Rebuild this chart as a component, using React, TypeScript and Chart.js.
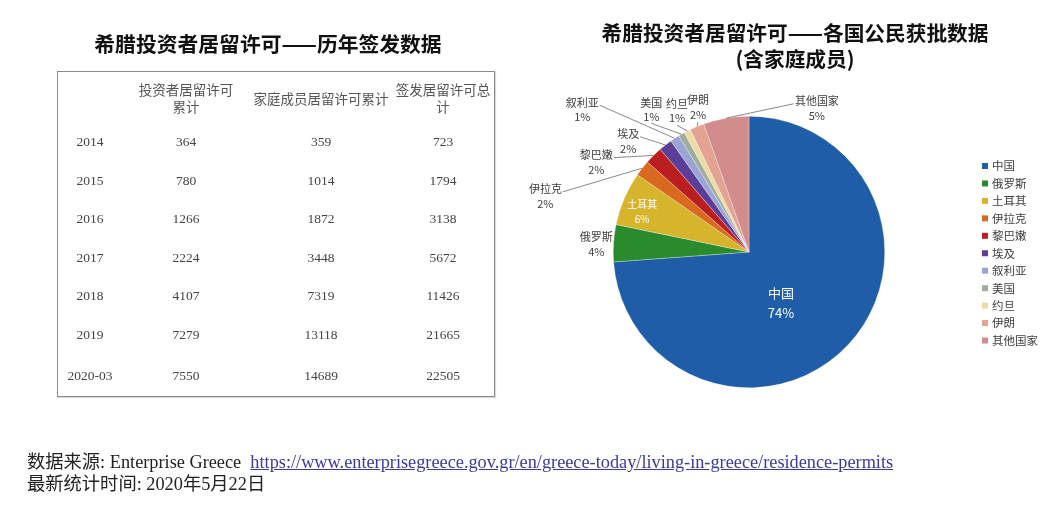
import React, { useEffect, useRef } from "react";
import { Chart, registerables } from "chart.js";

Chart.register(...registerables);

// ---------- data ----------
const countries = ["中国", "俄罗斯", "土耳其", "伊拉克", "黎巴嫩", "埃及", "叙利亚", "美国", "约旦", "伊朗", "其他国家"];
const shares = [73.8, 4.4, 6.4, 1.9, 2.1, 1.6, 1.1, 0.75, 0.8, 1.7, 5.4];
const sliceColors = ["#1F5DA8", "#2A8A2E", "#D6B42B", "#D8691F", "#BA1E1E", "#5C3E97", "#9AA5D6", "#9FAE9C", "#ECDCA3", "#E4A293", "#D28C8C"];

const tableHeaders = ["", "投资者居留许可\n累计", "家庭成员居留许可累计", "签发居留许可总计"];
const years = ["2014", "2015", "2016", "2017", "2018", "2019", "2020-03"];
const investorPermits = [364, 780, 1266, 2224, 4107, 7279, 7550];
const familyPermits = [359, 1014, 1872, 3448, 7319, 13118, 14689];
const totalPermits = [723, 1794, 3138, 5672, 11426, 21665, 22505];

const leftTitle = "希腊投资者居留许可——历年签发数据";
const rightTitle1 = "希腊投资者居留许可——各国公民获批数据";
const rightTitle2 = "(含家庭成员)";
const sourceLabel = "数据来源: Enterprise Greece";
const sourceUrl = "https://www.enterprisegreece.gov.gr/en/greece-today/living-in-greece/residence-permits";
const updateLabel = "最新统计时间: 2020年5月22日";

// ---------- label layout (offsets relative to pie radius) ----------
const labelLayout = [
  { dx: 0.235, dy: 0.375, line: "none", size: 13, gap: 20, color: "#ffffff" },
  { dx: -1.125, dy: -0.055, line: "none", size: 11, gap: 15, color: "#404040" },
  { dx: -0.787, dy: -0.3, line: "none", size: 10, gap: 15, color: "#ffffff" },
  { dx: -1.5, dy: -0.41, line: "right", size: 11, gap: 15, color: "#404040" },
  { dx: -1.125, dy: -0.662, line: "right", size: 11, gap: 15, color: "#404040" },
  { dx: -0.89, dy: -0.816, line: "right", size: 11, gap: 15, color: "#404040" },
  { dx: -1.228, dy: -1.051, line: "right", size: 11, gap: 14, color: "#404040" },
  { dx: -0.72, dy: -1.051, line: "bottom", size: 11, gap: 14, color: "#404040" },
  { dx: -0.53, dy: -1.037, line: "bottom", size: 11, gap: 14, color: "#404040" },
  { dx: -0.375, dy: -1.066, line: "bottom", size: 11, gap: 15, color: "#404040" },
  { dx: 0.5, dy: -1.059, line: "left", size: 11, gap: 15, color: "#404040" },
];

const CJK = '"Noto Sans CJK SC", "Noto Sans", sans-serif';

const pieLabels = {
  id: "pieLabels",
  afterDatasetsDraw(chart: any) {
    const ctx = chart.ctx;
    const meta = chart.getDatasetMeta(0);
    const values = chart.data.datasets[0].data as number[];
    const total = values.reduce((a, b) => a + b, 0);
    meta.data.forEach((arc: any, i: number) => {
      const p = arc.getProps(["x", "y", "startAngle", "endAngle", "outerRadius"], true);
      const lay = labelLayout[i];
      const r = p.outerRadius;
      const cx = p.x + lay.dx * r;
      const cy = p.y + lay.dy * r;
      const name = String(chart.data.labels[i]);
      ctx.save();
      ctx.font = `${lay.size}px ${CJK}`;
      ctx.fillStyle = lay.color;
      ctx.textAlign = "center";
      ctx.textBaseline = "middle";
      const nameY = cy - lay.gap / 2;
      const pctY = cy + lay.gap / 2;
      ctx.fillText(name, cx, nameY);
      ctx.fillText(Math.round((values[i] / total) * 100) + "%", cx, pctY);
      if (lay.line !== "none") {
        const mid = (p.startAngle + p.endAngle) / 2;
        const ex = p.x + Math.cos(mid) * r;
        const ey = p.y + Math.sin(mid) * r;
        const w = ctx.measureText(name).width;
        let sx = cx;
        let sy = pctY + 7;
        if (lay.line === "right") {
          sx = cx + w / 2 + 1;
          sy = nameY + 3;
        } else if (lay.line === "left") {
          sx = cx - w / 2 - 1;
          sy = nameY + 3;
        }
        ctx.strokeStyle = "#6b6b6b";
        ctx.lineWidth = 0.8;
        ctx.beginPath();
        ctx.moveTo(sx, sy);
        ctx.lineTo(ex, ey);
        ctx.stroke();
      }
      ctx.restore();
    });
  },
};

const sideLegend = {
  id: "sideLegend",
  afterDraw(chart: any) {
    const ctx = chart.ctx;
    const labels = chart.data.labels as string[];
    const colors = chart.data.datasets[0].backgroundColor as string[];
    const x = chart.chartArea.right + 97;
    const y0 = chart.chartArea.top + 50;
    ctx.save();
    ctx.font = `11.5px ${CJK}`;
    ctx.textAlign = "left";
    ctx.textBaseline = "middle";
    labels.forEach((lab, i) => {
      const y = y0 + i * 17.45;
      ctx.fillStyle = colors[i];
      ctx.fillRect(x, y - 3, 6, 6);
      ctx.fillStyle = "#404040";
      ctx.fillText(lab, x + 10, y);
    });
    ctx.restore();
  },
};

const colLefts = [0, 64, 192, 334];
const colWidths = [64, 128, 142, 102];

export default function App() {
  const canvasRef = useRef<HTMLCanvasElement | null>(null);

  useEffect(() => {
    const canvas = canvasRef.current;
    if (!canvas) return;
    const chart = new Chart(canvas, {
      type: "pie",
      data: {
        labels: countries,
        datasets: [
          {
            data: shares,
            backgroundColor: sliceColors,
            borderColor: "rgba(255,255,255,0.6)",
            borderWidth: 0.5,
          },
        ],
      },
      options: {
        responsive: false,
        animation: false,
        layout: { padding: { left: 613, right: 175, top: 116, bottom: 119 } },
        plugins: {
          legend: { display: false },
          tooltip: { enabled: false },
          title: { display: false },
        },
      },
      plugins: [pieLabels, sideLegend],
    });
    return () => chart.destroy();
  }, []);

  const rows = years.map((y, i) => [y, investorPermits[i], familyPermits[i], totalPermits[i]]);

  return (
    <div
      style={{
        position: "absolute",
        left: 0,
        top: 0,
        width: 1060,
        height: 507,
        background: "#ffffff",
        overflow: "hidden",
        fontFamily: CJK,
      }}
    >
      <canvas
        ref={canvasRef}
        width={1060}
        height={507}
        style={{ position: "absolute", left: 0, top: 0, width: 1060, height: 507 }}
      />

      <div
        style={{
          position: "absolute",
          left: 68,
          width: 400,
          top: 31,
          lineHeight: "24px",
          fontSize: 20.8,
          fontWeight: 700,
          textAlign: "center",
          color: "#111",
          whiteSpace: "nowrap",
        }}
      >
        {leftTitle}
      </div>

      <div
        style={{
          position: "absolute",
          left: 595,
          width: 400,
          top: 19,
          lineHeight: "26px",
          fontSize: 20.7,
          fontWeight: 700,
          textAlign: "center",
          color: "#111",
          whiteSpace: "nowrap",
        }}
      >
        <div>{rightTitle1}</div>
        <div>{rightTitle2}</div>
      </div>

      <div
        style={{
          position: "absolute",
          left: 57,
          top: 71,
          width: 436,
          height: 324,
          border: "1.5px solid #8a8a8a",
          boxShadow: "1px 1px 1px rgba(0,0,0,0.15)",
          fontFamily: '"Liberation Serif", "Noto Sans CJK SC", serif',
          fontSize: 13.5,
          color: "#444",
        }}
      >
        {tableHeaders.map((h, c) => (
          <div
            key={"h" + c}
            style={{
              position: "absolute",
              left: colLefts[c],
              width: colWidths[c],
              top: 0,
              height: 52,
              display: "flex",
              alignItems: "center",
              justifyContent: "center",
              textAlign: "center",
              whiteSpace: "pre-line",
              lineHeight: "17px",
              fontFamily: CJK,
              color: "#555",
            }}
          >
            {h}
          </div>
        ))}
        {rows.map((row, r) =>
          row.map((v, c) => (
            <div
              key={r + "-" + c}
              style={{
                position: "absolute",
                left: colLefts[c],
                width: colWidths[c],
                top: 51 + r * 38.5 + (r === rows.length - 1 ? 3 : 0),
                height: 38.5,
                lineHeight: "38.5px",
                textAlign: "center",
                whiteSpace: "nowrap",
              }}
            >
              {v}
            </div>
          ))
        )}
      </div>

      <div
        style={{
          position: "absolute",
          left: 27,
          top: 451,
          fontSize: 18.3,
          lineHeight: "22px",
          color: "#222",
          fontFamily: '"Liberation Serif", "Noto Sans CJK SC", serif',
          whiteSpace: "pre",
        }}
      >
        <div>
          {sourceLabel + "  "}
          <span style={{ color: "#3b3b9c", textDecoration: "underline" }}>{sourceUrl}</span>
        </div>
        <div>{updateLabel}</div>
      </div>
    </div>
  );
}
